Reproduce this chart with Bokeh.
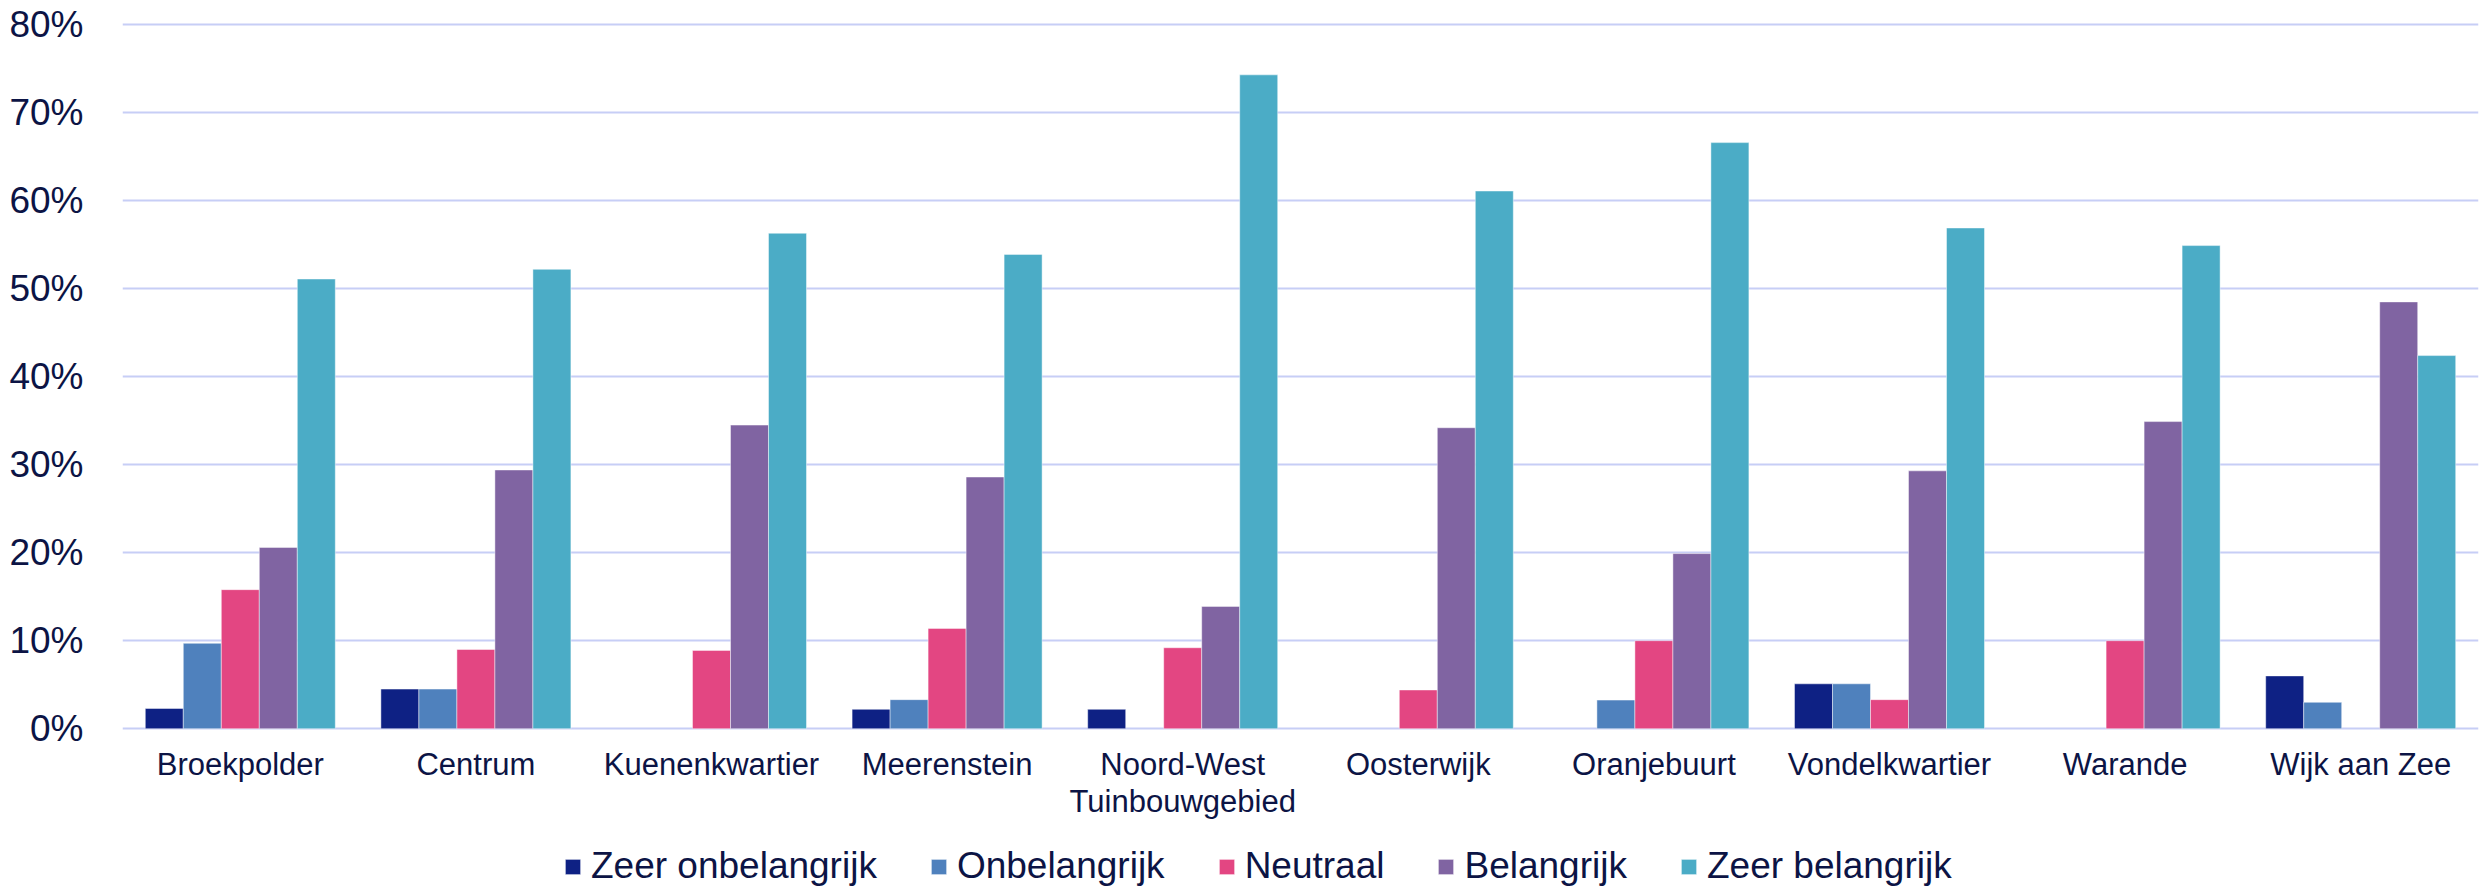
from bokeh.plotting import figure
from bokeh.models import (ColumnDataSource, FactorRange, Legend, LegendItem,
                          NumeralTickFormatter, Range1d, FixedTicker, LabelSet)
from bokeh.core.properties import value
from bokeh.transform import dodge
from bokeh.embed import file_html
from bokeh.resources import INLINE

categories = ["Broekpolder", "Centrum", "Kuenenkwartier", "Meerenstein",
              "Noord-West Tuinbouwgebied", "Oosterwijk", "Oranjebuurt",
              "Vondelkwartier", "Warande", "Wijk aan Zee"]
# category labels as printed (second line only where the label wraps)
label_line1 = ["Broekpolder", "Centrum", "Kuenenkwartier", "Meerenstein",
               "Noord-West", "Oosterwijk", "Oranjebuurt",
               "Vondelkwartier", "Warande", "Wijk aan Zee"]
label_line2 = ["", "", "", "", "Tuinbouwgebied", "", "", "", "", ""]
series_names = ["Zeer onbelangrijk", "Onbelangrijk", "Neutraal", "Belangrijk", "Zeer belangrijk"]

zeer_onbelangrijk = [2.3, 4.5, 0.0, 2.2, 2.2, 0.0, 0.0, 5.1, 0.0, 6.0]
onbelangrijk      = [9.7, 4.5, 0.0, 3.3, 0.0, 0.0, 3.25, 5.1, 0.0, 3.0]
neutraal          = [15.8, 9.0, 8.9, 11.4, 9.2, 4.4, 10.0, 3.3, 10.0, 0.0]
belangrijk        = [20.6, 29.4, 34.5, 28.6, 13.9, 34.2, 19.9, 29.3, 34.9, 48.5]
zeer_belangrijk   = [51.1, 52.2, 56.3, 53.9, 74.3, 61.1, 66.6, 56.9, 54.9, 42.4]

y_ticks = [0, 0.1, 0.2, 0.3, 0.4, 0.5, 0.6, 0.7, 0.8]

colors = ["#0e2184", "#4f81bd", "#e34682", "#8064a2", "#4bacc6"]
text_color = "#0c1445"
grid_color = "#c7cef6"
font = "Liberation Sans"

all_series = [zeer_onbelangrijk, onbelangrijk, neutraal, belangrijk, zeer_belangrijk]

# layout: frame runs from the top margin down to the bottom of the canvas,
# the category labels and the legend live in the lower part of the frame
W, H = 2483, 886
top_border = 22
frame_h = H - top_border
px_per_unit = 880.0            # 88 px per 10 %
y_end = 0.8025
y_start = y_end - frame_h / px_per_unit

p = figure(x_range=FactorRange(factors=categories, range_padding=0),
           y_range=Range1d(y_start, y_end),
           width=W, height=H, output_backend="svg", toolbar_location=None,
           x_axis_location=None,
           min_border_left=122, min_border_right=5, min_border_top=top_border,
           min_border_bottom=0)
p.outline_line_color = None
p.background_fill_color = "white"
p.border_fill_color = "white"

bar_w = 0.1613
items = []
for i, (name, vals, col) in enumerate(zip(series_names, all_series, colors)):
    cats = [c for c, v in zip(categories, vals) if v > 0]
    tops = [v / 100.0 for v in vals if v > 0]
    src = ColumnDataSource(dict(cat=cats, top=tops))
    r = p.vbar(x=dodge("cat", (i - 2) * bar_w, range=p.x_range), top="top", bottom=0,
               width=bar_w, source=src, fill_color=col, line_color="white",
               line_alpha=0.45, line_width=1)
    items.append(LegendItem(label=name, renderers=[r]))

p.xgrid.grid_line_color = None
p.ygrid.grid_line_color = grid_color
p.ygrid.grid_line_width = 2
p.ygrid.ticker = FixedTicker(ticks=y_ticks)

p.yaxis.ticker = FixedTicker(ticks=y_ticks)
p.yaxis.formatter = NumeralTickFormatter(format="0%")
p.yaxis.axis_line_color = None
p.yaxis.major_tick_line_color = None
p.yaxis.minor_tick_line_color = None
p.yaxis.major_label_standoff = 33
p.yaxis.major_label_text_font = font
p.yaxis.major_label_text_font_size = "37px"
p.yaxis.major_label_text_color = text_color

# category labels under the bars
lab1 = ColumnDataSource(dict(cat=categories, y=[0] * len(categories), text=label_line1))
p.add_layout(LabelSet(x="cat", y="y", text="text", source=lab1,
                      y_offset=-18, text_align="center", text_baseline="top",
                      text_font=value(font), text_font_size=value("31px"),
                      text_color=value(text_color)))
l2 = [(c, t) for c, t in zip(categories, label_line2) if t]
lab2 = ColumnDataSource(dict(cat=[c for c, _ in l2], y=[0] * len(l2), text=[t for _, t in l2]))
p.add_layout(LabelSet(x="cat", y="y", text="text", source=lab2,
                      y_offset=-55, text_align="center", text_baseline="top",
                      text_font=value(font), text_font_size=value("31px"),
                      text_color=value(text_color)))

legend = Legend(items=items, orientation="horizontal", location=(441, -1),
                glyph_width=19, glyph_height=19, label_standoff=9, spacing=52,
                padding=0, margin=0, border_line_color=None, background_fill_alpha=0,
                label_text_font=font, label_text_font_size="37px",
                label_text_color=text_color)
p.add_layout(legend, "center")

open("out.html", "w").write(file_html(p, INLINE))
